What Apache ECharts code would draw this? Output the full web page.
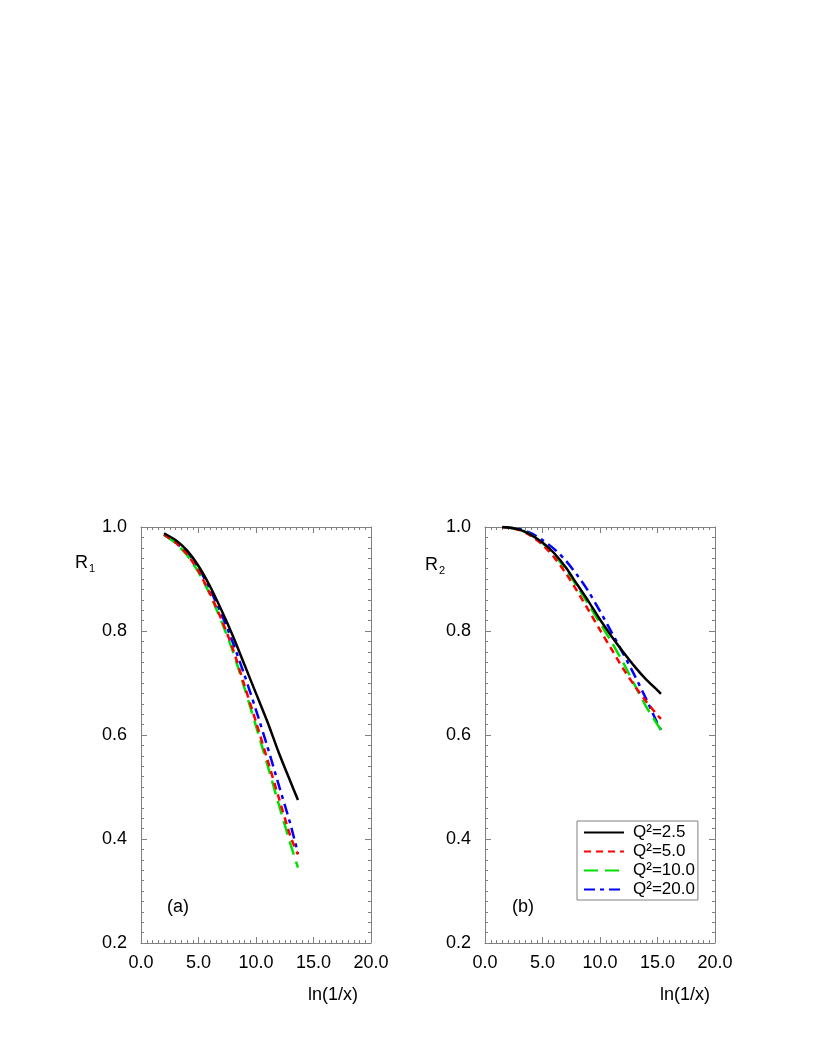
<!DOCTYPE html>
<html>
<head>
<meta charset="utf-8">
<script src="https://cdn.jsdelivr.net/npm/echarts@6/dist/echarts.min.js"></script>
<style>
html,body{margin:0;padding:0;background:#fff;}
#chart{width:817px;height:1058px;}
</style>
</head>
<body>
<div id="chart"></div>
<script>
// ---- data ----
const seriesNames = ['Q\u00B2=2.5', 'Q\u00B2=5.0', 'Q\u00B2=10.0', 'Q\u00B2=20.0'];
const xTicks = [0, 5, 10, 15, 20];
const yTicks = [0.2, 0.4, 0.6, 0.8, 1.0];

// panel (a): R1 vs ln(1/x)
const xR1 = [2, 3, 4, 5, 6, 7, 8, 9, 10, 11, 12, 13, 13.65];
const r1_q2_2_5  = [0.988, 0.975, 0.955, 0.925, 0.886, 0.840, 0.790, 0.735, 0.680, 0.625, 0.565, 0.510, 0.475];
const r1_q2_5_0  = [0.985, 0.970, 0.948, 0.915, 0.872, 0.822, 0.765, 0.695, 0.625, 0.552, 0.478, 0.405, 0.370];
const r1_q2_10_0 = [0.985, 0.969, 0.946, 0.913, 0.870, 0.818, 0.760, 0.690, 0.617, 0.542, 0.465, 0.390, 0.345];
const r1_q2_20_0 = [0.985, 0.971, 0.951, 0.921, 0.880, 0.832, 0.777, 0.715, 0.648, 0.577, 0.502, 0.428, 0.372];

// panel (b): R2 vs ln(1/x)
const xR2 = [1.5, 2, 3, 4, 5, 6, 7, 8, 9, 10, 11, 12, 13, 14, 15, 15.3];
const r2_q2_2_5  = [1.0, 0.999, 0.995, 0.985, 0.970, 0.950, 0.923, 0.890, 0.857, 0.822, 0.790, 0.760, 0.732, 0.707, 0.686, 0.679];
const r2_q2_5_0  = [1.0, 0.999, 0.994, 0.983, 0.966, 0.942, 0.912, 0.877, 0.840, 0.802, 0.765, 0.728, 0.695, 0.665, 0.638, 0.631];
const r2_q2_10_0 = [1.0, 0.999, 0.995, 0.985, 0.969, 0.947, 0.919, 0.886, 0.851, 0.815, 0.779, 0.740, 0.697, 0.655, 0.620, 0.610];
const r2_q2_20_0 = [1.0, 0.999, 0.996, 0.988, 0.975, 0.958, 0.936, 0.908, 0.876, 0.838, 0.798, 0.757, 0.715, 0.670, 0.622, 0.610];

// ---- styling ----
const FONT = 'Liberation Sans, Arial, Helvetica, sans-serif';
const FRAME = '#808080';
const colors = ['#000000', '#ff0000', '#00e000', '#0000ff'];
const dashes = ['solid', [7, 5], [14, 7], [11, 5, 4, 5]];

function pairs(xs, ys) { return xs.map((x, i) => [x, ys[i]]); }

function xAxisDef(gridIndex, position, showLabels) {
  return {
    type: 'value', gridIndex, position,
    min: xTicks[0], max: xTicks[xTicks.length - 1], interval: 5,
    axisLine: { show: true, onZero: false, lineStyle: { color: FRAME, width: 1 } },
    axisTick: { show: true, inside: true, length: 6, lineStyle: { color: FRAME } },
    minorTick: { show: true, splitNumber: 10, length: 3, lineStyle: { color: FRAME } },
    splitLine: { show: false },
    axisLabel: {
      show: showLabels, color: '#000', fontFamily: FONT, fontSize: 18, margin: 11,
      formatter: v => v.toFixed(1)
    }
  };
}
function yAxisDef(gridIndex, position, showLabels) {
  return {
    type: 'value', gridIndex, position,
    min: yTicks[0], max: yTicks[yTicks.length - 1], interval: 0.2,
    axisLine: { show: true, onZero: false, lineStyle: { color: FRAME, width: 1 } },
    axisTick: { show: true, inside: true, length: 6, lineStyle: { color: FRAME } },
    minorTick: { show: true, splitNumber: 10, length: 3, lineStyle: { color: FRAME } },
    splitLine: { show: false },
    axisLabel: {
      show: showLabels, color: '#000', fontFamily: FONT, fontSize: 18, margin: 14,
      formatter: v => v.toFixed(1)
    }
  };
}
function lineSeries(name, idx, xAxisIndex, yAxisIndex, data) {
  return {
    name, type: 'line', xAxisIndex, yAxisIndex,
    data, symbol: 'none', smooth: 0.25,
    color: colors[idx],
    lineStyle: { color: colors[idx], width: 2.5, type: dashes[idx] },
    z: 10 - idx
  };
}

const r1 = [r1_q2_2_5, r1_q2_5_0, r1_q2_10_0, r1_q2_20_0];
const r2 = [r2_q2_2_5, r2_q2_5_0, r2_q2_10_0, r2_q2_20_0];

const series = [];
r1.forEach((ys, i) => series.push(lineSeries(seriesNames[i], i, 0, 0, pairs(xR1, ys))));
r2.forEach((ys, i) => series.push(lineSeries(seriesNames[i], i, 2, 2, pairs(xR2, ys))));

const chart = echarts.init(document.getElementById('chart'), null, { renderer: 'canvas' });
chart.setOption({
  backgroundColor: '#ffffff',
  animation: false,
  textStyle: { fontFamily: FONT },
  grid: [
    { left: 141, top: 527, width: 230, height: 416 },
    { left: 485, top: 527, width: 230, height: 416 }
  ],
  xAxis: [
    xAxisDef(0, 'bottom', true), xAxisDef(0, 'top', false),
    xAxisDef(1, 'bottom', true), xAxisDef(1, 'top', false)
  ],
  yAxis: [
    yAxisDef(0, 'left', true), yAxisDef(0, 'right', false),
    yAxisDef(1, 'left', true), yAxisDef(1, 'right', false)
  ],
  legend: {
    data: seriesNames,
    orient: 'vertical',
    left: 577, top: 821,
    itemWidth: 40, itemHeight: 14, itemGap: 2,
    padding: [3, 3, 2, 6],
    borderColor: FRAME, borderWidth: 1,
    itemStyle: { color: 'rgba(0,0,0,0)', borderWidth: 0, opacity: 0 },
    textStyle: { fontFamily: FONT, fontSize: 17, color: '#000', padding: [0, 0, 0, 4] }
  },
  graphic: [
    { type: 'text', left: 75, top: 554, style: {
        rich: { a: { fontFamily: FONT, fontSize: 18, fill: '#000' }, s: { fontFamily: FONT, fontSize: 11, fill: '#000', padding: [12, 0, 0, 1] } },
        text: '{a|R}{s|1}' } },
    { type: 'text', left: 425, top: 556, style: {
        rich: { a: { fontFamily: FONT, fontSize: 18, fill: '#000' }, s: { fontFamily: FONT, fontSize: 11, fill: '#000', padding: [12, 0, 0, 1] } },
        text: '{a|R}{s|2}' } },
    { type: 'text', left: 167, top: 898, style: { text: '(a)', font: '18px ' + FONT, fill: '#000' } },
    { type: 'text', left: 512, top: 898, style: { text: '(b)', font: '18px ' + FONT, fill: '#000' } },
    { type: 'text', left: 308, top: 986, style: { text: 'ln(1/x)', font: '18px ' + FONT, fill: '#000' } },
    { type: 'text', left: 660, top: 986, style: { text: 'ln(1/x)', font: '18px ' + FONT, fill: '#000' } }
  ],
  series
});
</script>
</body>
</html>
